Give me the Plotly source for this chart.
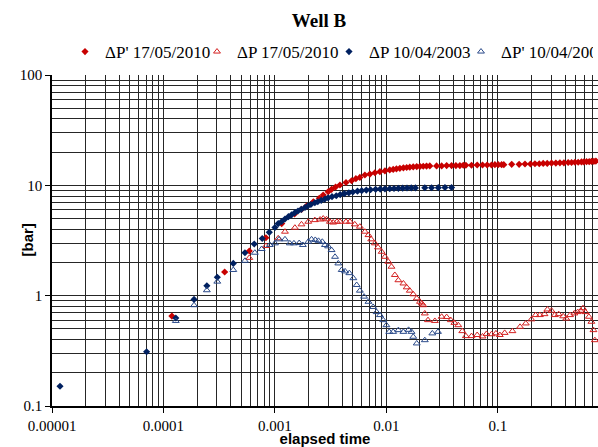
import plotly.graph_objects as go

# ---------------- data ----------------
t_dpd_2010 = [1.19e-4, 3.54e-4, 5.89e-4, 8.3e-4, 1.15e-3, 1.5e-3, 1.73e-3, 1.92e-3, 2.21e-3, 2.5e-3,
              2.71e-3, 3.0e-3, 3.22e-3, 3.5e-3, 3.83e-3, 4.34e-3, 4.87e-3, 5.32e-3, 5.78e-3, 6.41e-3,
              7.11e-3, 7.88e-3, 8.74e-3, 9.7e-3, 0.0107, 0.0115, 0.0123, 0.0132, 0.0142, 0.0152,
              0.0162, 0.0174, 0.0187, 0.0200, 0.0214, 0.0229, 0.0245, 0.0282, 0.0313, 0.0347,
              0.0384, 0.042, 0.0456, 0.0489, 0.0516, 0.058, 0.0652, 0.0728, 0.0801, 0.0877,
              0.094, 0.1007, 0.108, 0.113, 0.133, 0.155, 0.175, 0.196, 0.215, 0.235,
              0.255, 0.277, 0.303, 0.331, 0.36, 0.391, 0.427, 0.458, 0.491, 0.525,
              0.562, 0.59, 0.624, 0.659, 0.692, 0.726, 0.757]
dpd_2010 = [0.653, 1.64, 2.54, 3.35, 4.5, 5.5, 6.05, 6.49, 7.1, 7.62,
            8.17, 8.75, 9.2, 9.65, 10.07, 10.6, 11.0, 11.5, 11.8, 12.4,
            12.65, 13.0, 13.3, 13.5, 13.8, 13.95, 14.1, 14.25, 14.4, 14.5,
            14.6, 14.7, 14.8, 14.85, 14.9, 14.95, 15.0, 15.0, 15.0, 15.1,
            15.1, 15.1, 15.1, 15.2, 15.2, 15.2, 15.3, 15.3, 15.3, 15.3,
            15.4, 15.4, 15.4, 15.4, 15.5, 15.5, 15.6, 15.6, 15.7, 15.7,
            15.8, 15.8, 15.9, 15.9, 16.0, 16.0, 16.1, 16.1, 16.2, 16.2,
            16.3, 16.3, 16.4, 16.4, 16.5, 16.5, 16.6]

t_dp_2010 = [5.89e-4, 8.3e-4, 1.07e-3, 1.23e-3, 1.51e-3, 1.73e-3, 1.99e-3, 2.28e-3, 2.54e-3, 2.71e-3,
             2.9e-3, 3.11e-3, 3.33e-3, 3.6e-3, 3.83e-3, 4.34e-3, 4.71e-3, 5.2e-3, 5.78e-3, 6.41e-3,
             6.9e-3, 7.3e-3, 7.88e-3, 8.4e-3, 9.06e-3, 9.7e-3, 0.0104, 0.0111, 0.0119, 0.0128,
             0.0142, 0.0152, 0.0162, 0.0174, 0.0187, 0.0200, 0.0208, 0.0214, 0.0221, 0.0236,
             0.0272, 0.0313, 0.0347, 0.0378, 0.0407, 0.0441, 0.0479, 0.0516, 0.058, 0.0652,
             0.0728, 0.079, 0.0877, 0.096, 0.104, 0.115, 0.135, 0.158, 0.178, 0.2,
             0.218, 0.238, 0.262, 0.278, 0.303, 0.324, 0.351, 0.385, 0.41, 0.444,
             0.485, 0.52, 0.555, 0.58, 0.61, 0.655, 0.69, 0.72, 0.741]
dp_2010 = [2.2, 2.82, 3.31, 3.8, 4.13, 4.43, 4.68, 4.84, 4.9, 5.0,
           4.92, 4.68, 4.6, 4.68, 4.68, 4.68, 4.68, 4.43, 4.22, 3.8,
           3.54, 3.24, 2.98, 2.74, 2.5, 2.25, 2.03, 1.83, 1.54, 1.38,
           1.29, 1.19, 1.11, 1.03, 0.946, 0.88, 0.85, 0.82, 0.69, 0.60,
           0.59, 0.644, 0.64, 0.60, 0.567, 0.54, 0.477, 0.43, 0.43, 0.44,
           0.427, 0.45, 0.447, 0.455, 0.44, 0.46, 0.477, 0.522, 0.56, 0.61,
           0.667, 0.667, 0.68, 0.75, 0.73, 0.667, 0.68, 0.65, 0.62, 0.667,
           0.69, 0.71, 0.73, 0.77, 0.71, 0.644, 0.58, 0.487, 0.395]

t_dp_2003 = [1.18e-5, 7.06e-5, 1.29e-4, 1.88e-4, 2.45e-4, 3.04e-4, 4.23e-4, 5.38e-4, 6.52e-4, 7.69e-4,
             8.9e-4, 1.0e-3, 1.07e-3, 1.15e-3, 1.23e-3, 1.32e-3, 1.41e-3, 1.51e-3, 1.61e-3, 1.72e-3,
             1.86e-3, 1.97e-3, 2.1e-3, 2.28e-3, 2.42e-3, 2.6e-3, 2.8e-3, 3.0e-3, 3.25e-3, 3.55e-3,
             3.85e-3, 4.2e-3, 4.6e-3, 5.0e-3, 5.5e-3, 6.0e-3, 6.6e-3, 7.2e-3, 8.0e-3, 8.8e-3,
             9.7e-3, 0.0107, 0.0117, 0.0128, 0.014, 0.0153, 0.0167, 0.0182, 0.0221, 0.0254,
             0.0292, 0.0335, 0.0384]
dp_2003 = [0.151, 0.31, 0.627, 0.925, 1.23, 1.47, 1.96, 2.45, 2.94, 3.3,
           3.75, 4.15, 4.5, 4.7, 4.95, 5.2, 5.4, 5.65, 5.85, 6.05,
           6.3, 6.5, 6.7, 6.95, 7.1, 7.3, 7.5, 7.7, 7.9, 8.05,
           8.25, 8.4, 8.55, 8.7, 8.85, 8.95, 9.05, 9.12, 9.2, 9.25,
           9.3, 9.33, 9.36, 9.4, 9.43, 9.45, 9.47, 9.48, 9.5, 9.5,
           9.52, 9.55, 9.55]

t_dpd_2003 = [1.29e-4, 1.88e-4, 2.45e-4, 3.04e-4, 4.23e-4, 5.38e-4, 6.6e-4, 7.6e-4, 9.0e-4, 1.0e-3,
              1.09e-3, 1.23e-3, 1.36e-3, 1.48e-3, 1.65e-3, 1.78e-3, 1.99e-3, 2.13e-3, 2.3e-3, 2.46e-3,
              2.66e-3, 2.81e-3, 3.0e-3, 3.22e-3, 3.46e-3, 3.7e-3, 3.97e-3, 4.26e-3, 4.65e-3, 5.05e-3,
              5.41e-3, 5.78e-3, 6.3e-3, 6.9e-3, 7.6e-3, 8.17e-3, 8.74e-3, 9.36e-3, 0.01, 0.0106,
              0.0115, 0.0128, 0.0142, 0.0158, 0.0168, 0.0174, 0.0187, 0.0221, 0.0258, 0.029]
dpd_2003 = [0.59, 0.82, 1.12, 1.34, 1.71, 2.07, 2.45, 2.65, 2.88, 2.98,
            3.24, 3.24, 2.98, 2.98, 3.0, 2.88, 3.08, 3.24, 3.2, 3.14,
            3.08, 2.88, 2.8, 2.59, 2.25, 1.96, 1.71, 1.66, 1.6, 1.44,
            1.25, 1.11, 0.98, 0.88, 0.79, 0.71, 0.667, 0.60, 0.54, 0.47,
            0.47, 0.487, 0.47, 0.49, 0.47, 0.424, 0.369, 0.395, 0.455, 0.47]

series_names = ["ΔP' 17/05/2010", "ΔP 17/05/2010", "ΔP 10/04/2003", "ΔP' 10/04/2003"]
x_tick_vals = [0.00001, 0.0001, 0.001, 0.01, 0.1]
x_tick_text = ["0.00001", "0.0001", "0.001", "0.01", "0.1"]
y_tick_vals = [0.1, 1, 10, 100]
y_tick_text = ["0.1", "1", "10", "100"]

RED = "#C80000"
RED_T = "#D42222"
NAVY = "#002060"
BLUE_T = "#2A4A8A"
SERIF = "Liberation Serif"
SANS = "Liberation Sans"
W, H = 598, 447
ML, MR, MT, MB = 52, 0, 75, 41

fig = go.Figure()
fig.add_trace(go.Scatter(x=t_dpd_2010, y=dpd_2010, mode="markers", name=series_names[0],
                         marker=dict(symbol="diamond", size=5.5, color=RED, line=dict(width=0))))
fig.add_trace(go.Scatter(x=t_dp_2010, y=dp_2010, mode="markers", name=series_names[1],
                         marker=dict(symbol="triangle-up-open", size=6, color=RED_T, line=dict(width=1, color=RED_T))))
fig.add_trace(go.Scatter(x=t_dp_2003, y=dp_2003, mode="markers", name=series_names[2],
                         marker=dict(symbol="diamond", size=5.5, color=NAVY, line=dict(width=0))))
fig.add_trace(go.Scatter(x=t_dpd_2003, y=dpd_2003, mode="markers", name=series_names[3],
                         marker=dict(symbol="triangle-up-open", size=6, color=BLUE_T, line=dict(width=1, color=BLUE_T))))

GRID = "#262626"
fig.update_layout(
    width=W, height=H,
    margin=dict(l=ML, r=MR, t=MT, b=MB),
    paper_bgcolor="white", plot_bgcolor="white",
    title=dict(text="<b>Well B</b>", x=319 / W, xanchor="center", y=1 - 20 / H, yanchor="middle",
               font=dict(family=SERIF, size=19, color="black")),
    showlegend=True,
    legend=dict(orientation="h", xref="container", yref="container",
                x=65 / W, xanchor="left", y=1 - 52 / H, yanchor="middle",
                font=dict(family=SERIF, size=17, color="black"),
                entrywidth=87, entrywidthmode="pixels", itemwidth=30,
                bgcolor="rgba(0,0,0,0)", tracegroupgap=0),
    xaxis=dict(type="log", range=[-5, -0.102], showline=True, linecolor="black", linewidth=1.5,
               automargin=False,
               tickvals=x_tick_vals, ticktext=x_tick_text, ticks="outside", ticklen=5,
               tickcolor="black", tickfont=dict(family=SERIF, size=15, color="black"),
               showgrid=True, gridcolor=GRID, gridwidth=1, zeroline=False,
               minor=dict(dtick="D1", showgrid=True, gridcolor=GRID, gridwidth=1, ticks=""),
               title=dict(text="<b>elapsed time</b>", font=dict(family=SANS, size=15, color="black"))),
    yaxis=dict(type="log", range=[-1, 2], showline=True, linecolor="black", linewidth=1.5,
               automargin=False,
               tickvals=y_tick_vals, ticktext=y_tick_text, ticks="outside", ticklen=5,
               tickcolor="black", tickfont=dict(family=SERIF, size=15, color="black"),
               showgrid=True, gridcolor=GRID, gridwidth=1, zeroline=False,
               minor=dict(dtick="D1", showgrid=True, gridcolor=GRID, gridwidth=1, ticks="")),
    annotations=[dict(text="<b>[bar]</b>", textangle=-90, xref="paper", yref="paper",
                      x=-(ML - 27) / (W - ML - MR), y=0.5, xanchor="center", yanchor="middle",
                      showarrow=False, font=dict(family=SANS, size=15, color="black"))],
)

fig.write_html("out.html", config={"displayModeBar": False},
               post_script="document.body.style.margin='0';")
